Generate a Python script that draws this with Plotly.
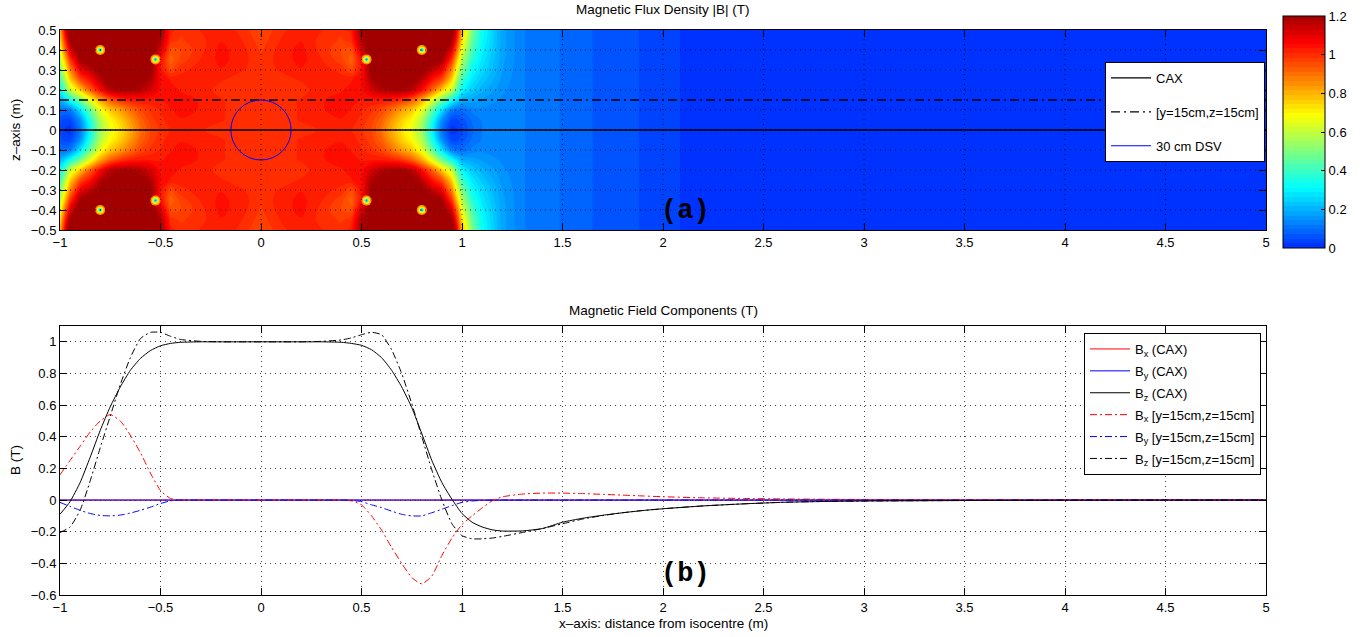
import numpy as np
import plotly.graph_objects as go

# ---------------- panel (a): |B| map ----------------
# right half (x >= 0) of the magnet region; mirrored about x = 0 and z = 0
x_half = [0.0, 0.1, 0.2, 0.3, 0.4, 0.45, 0.5, 0.55, 0.6, 0.65, 0.7, 0.75, 0.8, 0.85, 0.9, 0.95, 0.975, 1.0]
z_half = [0.0, 0.05, 0.1, 0.15, 0.2, 0.25, 0.3, 0.35, 0.4, 0.45, 0.5]
B_near = [
    [1.00, 1.00, 1.00, 1.01, 1.02, 1.01, 0.99, 0.96, 0.90, 0.81, 0.73, 0.66, 0.55, 0.32, 0.11, 0.01, 0.02, 0.04],
    [1.00, 1.00, 1.01, 1.02, 1.03, 1.02, 1.00, 0.97, 0.92, 0.84, 0.76, 0.69, 0.58, 0.36, 0.15, 0.04, 0.04, 0.06],
    [1.00, 1.00, 1.01, 1.03, 1.04, 1.03, 1.01, 0.99, 0.96, 0.90, 0.83, 0.77, 0.66, 0.47, 0.27, 0.12, 0.10, 0.10],
    [1.00, 1.00, 1.01, 1.03, 1.04, 1.04, 1.03, 1.03, 1.03, 1.02, 0.99, 0.93, 0.82, 0.66, 0.48, 0.33, 0.26, 0.20],
    [1.00, 1.00, 1.00, 1.02, 1.03, 1.04, 1.05, 1.12, 1.17, 1.19, 1.19, 1.16, 1.05, 0.92, 0.76, 0.60, 0.44, 0.31],
    [1.00, 1.00, 1.01, 1.02, 1.02, 1.03, 1.06, 1.18, 1.23, 1.25, 1.25, 1.23, 1.16, 1.04, 0.95, 0.75, 0.56, 0.40],
    [1.00, 1.01, 1.03, 1.02, 1.00, 0.96, 1.04, 1.22, 1.25, 1.25, 1.25, 1.25, 1.22, 1.15, 1.08, 0.86, 0.67, 0.50],
    [0.99, 1.02, 1.04, 1.01, 0.97, 0.92, 1.05, 1.23, 1.25, 1.25, 1.25, 1.25, 1.25, 1.25, 1.20, 0.98, 0.78, 0.58],
    [0.98, 1.02, 1.04, 1.00, 0.96, 0.95, 1.12, 1.25, 1.25, 1.25, 1.25, 1.25, 1.25, 1.25, 1.25, 1.10, 0.90, 0.66],
    [0.97, 1.01, 1.03, 1.00, 0.98, 1.00, 1.18, 1.25, 1.25, 1.25, 1.25, 1.25, 1.25, 1.25, 1.25, 1.22, 1.00, 0.74],
    [0.96, 1.00, 1.03, 1.01, 0.99, 1.02, 1.20, 1.25, 1.25, 1.25, 1.25, 1.25, 1.25, 1.25, 1.25, 1.28, 1.08, 0.80],
]
x_mid = [1.05, 1.1, 1.2]
B_mid = [
    [0.090, 0.120, 0.132],
    [0.100, 0.123, 0.132],
    [0.130, 0.138, 0.135],
    [0.180, 0.165, 0.140],
    [0.240, 0.200, 0.150],
    [0.280, 0.230, 0.160],
    [0.320, 0.260, 0.170],
    [0.370, 0.280, 0.175],
    [0.420, 0.300, 0.180],
    [0.460, 0.320, 0.180],
    [0.500, 0.330, 0.180],
]
x_tail = [1.3, 1.4, 1.5, 1.6, 1.7, 1.8, 1.9, 2.0, 2.1, 2.5, 3.0, 5.0]
B_tail = [0.122, 0.108, 0.094, 0.078, 0.066, 0.056, 0.046, 0.035, 0.022, 0.012, 0.008, 0.003]

coil_x = [-0.8, -0.525, 0.525, 0.8, -0.8, -0.525, 0.525, 0.8]
coil_z = [0.4, 0.353, 0.353, 0.4, -0.4, -0.353, -0.353, -0.4]

cax_z = 0.0
offaxis_z = 0.15
dsv_radius = 0.15

# ---------------- panel (b): field components along the lines ----------------
x_b = [-1.0, -0.95, -0.9, -0.85, -0.8, -0.75, -0.7, -0.65, -0.6, -0.55, -0.5, -0.45, -0.4,
       -0.3, -0.2, -0.1, 0.0, 0.1, 0.2, 0.3, 0.4,
       0.45, 0.5, 0.55, 0.6, 0.65, 0.7, 0.75, 0.8, 0.85, 0.9, 0.95, 1.0, 1.05, 1.1, 1.15, 1.2,
       1.3, 1.4, 1.5, 1.6, 1.7, 1.8, 1.9, 2.0,
       2.2, 2.4, 2.6, 2.8, 3.0,
       3.5, 4.0, 4.5, 5.0]
bx_cax = [0.0, 0.0, 0.0, 0.0, 0.0, 0.0, 0.0, 0.0, 0.0, 0.0, 0.0, 0.0, 0.0,
          0.0, 0.0, 0.0, 0.0, 0.0, 0.0, 0.0, 0.0,
          0.0, 0.0, 0.0, 0.0, 0.0, 0.0, 0.0, 0.0, 0.0, 0.0, 0.0, 0.0, 0.0, 0.0, 0.0, 0.0,
          0.0, 0.0, 0.0, 0.0, 0.0, 0.0, 0.0, 0.0,
          0.0, 0.0, 0.0, 0.0, 0.0,
          0.0, 0.0, 0.0, 0.0]
by_cax = [0.0, 0.0, 0.0, 0.0, 0.0, 0.0, 0.0, 0.0, 0.0, 0.0, 0.0, 0.0, 0.0,
          0.0, 0.0, 0.0, 0.0, 0.0, 0.0, 0.0, 0.0,
          0.0, 0.0, 0.0, 0.0, 0.0, 0.0, 0.0, 0.0, 0.0, 0.0, 0.0, 0.0, 0.0, 0.0, 0.0, 0.0,
          0.0, 0.0, 0.0, 0.0, 0.0, 0.0, 0.0, 0.0,
          0.0, 0.0, 0.0, 0.0, 0.0,
          0.0, 0.0, 0.0, 0.0]
bz_cax = [-0.09, -0.01, 0.11, 0.27, 0.44, 0.59, 0.715, 0.82, 0.895, 0.945, 0.975, 0.99, 0.997,
          1.0, 1.0, 1.0, 1.0, 1.0, 1.0, 1.0, 0.997,
          0.99, 0.978, 0.95, 0.9, 0.82, 0.715, 0.585, 0.42, 0.25, 0.11, 0.005, -0.085, -0.14, -0.17, -0.188, -0.196,
          -0.195, -0.18, -0.14, -0.115, -0.096, -0.08, -0.066, -0.055,
          -0.037, -0.024, -0.014, -0.009, -0.006,
          -0.003, -0.001, 0.0, 0.0]
bx_off = [0.16, 0.25, 0.34, 0.43, 0.5, 0.54, 0.5, 0.41, 0.3, 0.17, 0.06, 0.01, 0.0,
          0.0, 0.0, 0.0, 0.0, 0.0, 0.0, 0.0, 0.0,
          -0.005, -0.03, -0.1, -0.19, -0.3, -0.4, -0.49, -0.53, -0.48, -0.35, -0.24, -0.155, -0.1, -0.05, -0.005, 0.02,
          0.038, 0.044, 0.044, 0.041, 0.036, 0.031, 0.026, 0.021,
          0.014, 0.01, 0.007, 0.005, 0.004,
          0.002, 0.001, 0.0, 0.0]
by_off = [-0.015, -0.04, -0.065, -0.085, -0.097, -0.1, -0.095, -0.082, -0.065, -0.045, -0.022, -0.005, 0.0,
          0.0, 0.0, 0.0, 0.0, 0.0, 0.0, 0.0, 0.0,
          -0.002, -0.01, -0.03, -0.048, -0.07, -0.09, -0.1, -0.1, -0.08, -0.058, -0.035, -0.015, -0.006, -0.002, 0.0, 0.0,
          0.0, 0.0, 0.0, 0.0, 0.0, 0.0, 0.0, 0.0,
          0.0, 0.0, 0.0, 0.0, 0.0,
          0.0, 0.0, 0.0, 0.0]
bz_off = [-0.205, -0.17, -0.065, 0.12, 0.33, 0.53, 0.73, 0.9, 1.02, 1.06, 1.06, 1.035, 1.015,
          1.003, 1.0, 1.0, 1.0, 1.0, 1.0, 1.003, 1.012,
          1.025, 1.045, 1.06, 1.045, 0.95, 0.8, 0.61, 0.4, 0.19, 0.0, -0.15, -0.225, -0.245, -0.245, -0.24, -0.23,
          -0.205, -0.18, -0.15, -0.12, -0.098, -0.08, -0.066, -0.055,
          -0.037, -0.024, -0.014, -0.009, -0.006,
          -0.003, -0.001, 0.0, 0.0]

xticks = [-1, -0.5, 0, 0.5, 1, 1.5, 2, 2.5, 3, 3.5, 4, 4.5, 5]
zticks = [-0.5, -0.4, -0.3, -0.2, -0.1, 0, 0.1, 0.2, 0.3, 0.4, 0.5]
bticks = [-0.6, -0.4, -0.2, 0, 0.2, 0.4, 0.6, 0.8, 1]
cticks = [0, 0.2, 0.4, 0.6, 0.8, 1, 1.2]

# ---------------- build the full grid by symmetry ----------------
x_full = [-v for v in x_half[:0:-1]] + x_half + x_mid + x_tail
rows_half = []
for i in range(len(z_half)):
    near = B_near[i]
    rows_half.append(near[:0:-1] + near + B_mid[i] + B_tail)
z_full = [-v for v in z_half[:0:-1]] + z_half
Z = rows_half[:0:-1] + rows_half


def fmt(v):
    s = ('%g' % v)
    return s.replace('-', '\u2212')


# colour map: jet, shifted so that 0 T sits just above pure blue
def jet(f):
    r = min(max(min(4 * f - 1.5, -4 * f + 4.5), 0), 1)
    g = min(max(min(4 * f - 0.5, -4 * f + 3.5), 0), 1)
    b = min(max(min(4 * f + 0.5, -4 * f + 2.5), 0), 1)
    return 'rgb(%d,%d,%d)' % (round(r * 255), round(g * 255), round(b * 255))


cmax = 1.2
cscale = []
for t in np.linspace(0, 1, 61):
    v = t * cmax
    cscale.append([float(t), jet((v + 0.25) / 1.5)])

FONT = 'Liberation Sans, Arial, sans-serif'
W, H = 1370, 637
L, R = 60, 1266
A_T, A_B = 30, 230
B_T, B_B = 326, 595

fig = go.Figure()

fig.add_trace(go.Contour(
    x=x_full, y=z_full, z=Z, xaxis='x', yaxis='y',
    colorscale=cscale, zmin=0, zmax=cmax,
    contours=dict(start=0, end=cmax, size=0.024, coloring='fill', showlines=False),
    line=dict(width=0, smoothing=1.0),
    hoverinfo='skip', showlegend=False,
    colorbar=dict(
        thickness=42, thicknessmode='pixels', len=232, lenmode='pixels',
        x=1283 / W, xanchor='left', y=1 - 248 / H, yanchor='bottom',
        xpad=0, ypad=0, outlinecolor='black', outlinewidth=1,
        tickvals=cticks, ticktext=[fmt(v) for v in cticks],
        ticks='inside', ticklen=4, tickcolor='black',
        tickfont=dict(family=FONT, size=13, color='black'),
    ),
))

# coil singularities (small spots)
for size, col in [(10, 'rgb(255,150,0)'), (7, 'rgb(255,235,0)'), (4, 'rgb(60,255,210)'), (2, 'rgb(0,150,255)')]:
    fig.add_trace(go.Scatter(x=coil_x, y=coil_z, mode='markers', xaxis='x', yaxis='y',
                             marker=dict(size=size, color=col, line=dict(width=0)),
                             hoverinfo='skip', showlegend=False))

xa0, xa1 = x_full[0], x_full[-1]
fig.add_trace(go.Scatter(x=[xa0, xa1], y=[cax_z, cax_z], mode='lines', name='CAX',
                         line=dict(color='black', width=1.3), xaxis='x', yaxis='y',
                         legend='legend', legendgroup='a1'))
fig.add_trace(go.Scatter(x=[xa0, xa1], y=[offaxis_z, offaxis_z], mode='lines', name='[y=15cm,z=15cm]',
                         line=dict(color='black', width=1.3, dash='9px,4px,2px,4px'), xaxis='x', yaxis='y',
                         legend='legend', legendgroup='a2'))
fig.add_trace(go.Scatter(x=[None], y=[None], mode='lines', name='30 cm DSV',
                         line=dict(color='blue', width=1), xaxis='x', yaxis='y',
                         legend='legend', legendgroup='a3'))

# panel (b)
DD = '7px,3px,2px,3px'
series = [
    ('B<sub>x</sub> (CAX)', bx_cax, 'red', 'solid'),
    ('B<sub>y</sub> (CAX)', by_cax, 'blue', 'solid'),
    ('B<sub>z</sub> (CAX)', bz_cax, 'black', 'solid'),
    ('B<sub>x</sub> [y=15cm,z=15cm]', bx_off, 'red', DD),
    ('B<sub>y</sub> [y=15cm,z=15cm]', by_off, 'blue', DD),
    ('B<sub>z</sub> [y=15cm,z=15cm]', bz_off, 'black', DD),
]
for k, (name, ys, col, dash) in enumerate(series):
    fig.add_trace(go.Scatter(x=x_b, y=ys, mode='lines', name=name,
                             line=dict(color=col, width=1, dash=dash, shape='spline', smoothing=0.5),
                             xaxis='x2', yaxis='y2', legend='legend2', legendgroup='b%d' % k))

shapes = []
# DSV circle
shapes.append(dict(type='circle', xref='x', yref='y', x0=-dsv_radius, x1=dsv_radius,
                   y0=-dsv_radius, y1=dsv_radius, line=dict(color='blue', width=1), layer='above'))
# dotted grid drawn over the map
for v in xticks[1:-1]:
    shapes.append(dict(type='line', xref='x', yref='y', x0=v, x1=v, y0=zticks[0], y1=zticks[-1],
                       line=dict(color='rgba(0,0,0,0.8)', width=1, dash='1px,4px'), layer='above'))
for v in zticks[1:-1]:
    shapes.append(dict(type='line', xref='x', yref='y', x0=xticks[0], x1=xticks[-1], y0=v, y1=v,
                       line=dict(color='rgba(0,0,0,0.8)', width=1, dash='1px,4px'), layer='above'))

axis_common = dict(showline=True, linecolor='black', linewidth=1, mirror='ticks', ticks='inside',
                   ticklen=7, tickcolor='black', zeroline=False,
                   tickfont=dict(family=FONT, size=13, color='black'), automargin=False)


def ann(text, px, py, size=13.5, angle=0, family=FONT):
    return dict(text=text, x=px / W, y=1 - py / H, xref='paper', yref='paper', xanchor='center',
                yanchor='middle', showarrow=False, textangle=angle,
                font=dict(family=family, size=size, color='black'))


MONO = 'Liberation Mono, Courier New, monospace'
fig.update_layout(
    width=W, height=H, margin=dict(l=0, r=0, t=0, b=0),
    paper_bgcolor='white', plot_bgcolor='white',
    font=dict(family=FONT, size=13, color='black'),
    xaxis=dict(domain=[L / W, R / W], range=[-1, 5], anchor='y', tickvals=xticks,
               ticktext=[fmt(v) for v in xticks], showgrid=False, layer='above traces', **axis_common),
    yaxis=dict(domain=[1 - A_B / H, 1 - A_T / H], range=[-0.5, 0.5], anchor='x', tickvals=zticks,
               ticktext=[fmt(v) for v in zticks], showgrid=False, layer='above traces', **axis_common),
    xaxis2=dict(domain=[L / W, R / W], range=[-1, 5], anchor='y2', tickvals=xticks,
                ticktext=[fmt(v) for v in xticks], showgrid=True, gridcolor='rgba(0,0,0,0.75)',
                griddash='1px,4px', gridwidth=1, **axis_common),
    yaxis2=dict(domain=[1 - B_B / H, 1 - B_T / H], range=[-0.6, 1.1], anchor='x2', tickvals=bticks,
                ticktext=[fmt(v) for v in bticks], showgrid=True, gridcolor='rgba(0,0,0,0.75)',
                griddash='1px,4px', gridwidth=1, **axis_common),
    legend=dict(x=1265 / W, xanchor='right', y=1 - 62 / H, yanchor='top', bgcolor='white',
                bordercolor='black', borderwidth=1, itemwidth=40, traceorder='grouped',
                tracegroupgap=14, font=dict(family=FONT, size=13, color='black')),
    legend2=dict(x=1261 / W, xanchor='right', y=1 - 333 / H, yanchor='top', bgcolor='white',
                 bordercolor='black', borderwidth=1, itemwidth=40, traceorder='grouped',
                 tracegroupgap=2, font=dict(family=FONT, size=13, color='black')),
    shapes=shapes,
    annotations=[
        ann('Magnetic Flux Density |B| (T)', (L + R) / 2, 10),
        ann('Magnetic Field Components (T)', (L + R) / 2, 310),
        ann('z\u2013axis (m)', 15, 130, angle=-90),
        ann('B (T)', 15, 460, angle=-90),
        ann('x\u2013axis: distance from isocentre (m)', (L + R) / 2, 623),
        ann('<b>(a)</b>', 685, 211, size=27, family=MONO),
        ann('<b>(b)</b>', 685, 574, size=27, family=MONO),
    ],
)

fig.write_html('out.html')
